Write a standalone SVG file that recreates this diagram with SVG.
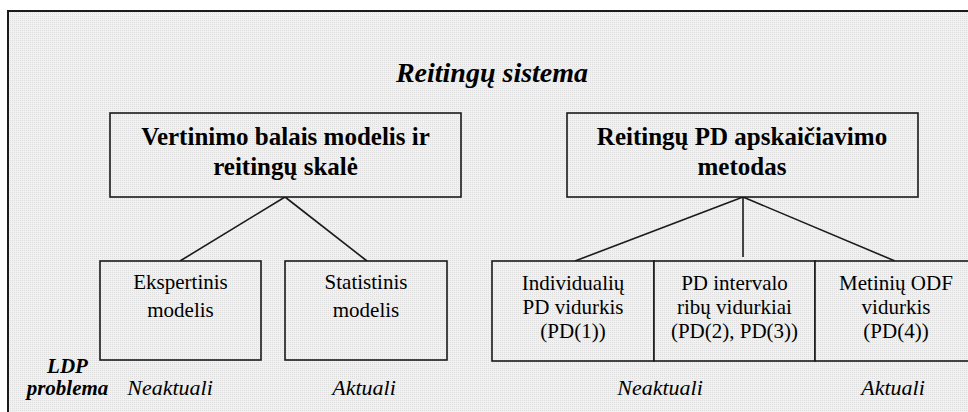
<svg xmlns="http://www.w3.org/2000/svg" width="968" height="412" viewBox="0 0 968 412">
<defs>
<pattern id="dots" width="2" height="2" patternUnits="userSpaceOnUse">
<rect width="2" height="2" fill="#f1f1f1"/>
<rect x="0" y="0" width="1" height="1" fill="#dedede"/>
</pattern>
</defs>
<rect width="968" height="412" fill="#ffffff"/>
<rect id="frame" x="8" y="11" width="980" height="420" fill="url(#dots)" stroke="#1a1a1a" stroke-width="2"/>
<text x="492" y="82" font-family="Liberation Serif" style="font-family:'Liberation Serif',serif;font-size:28px;font-weight:bold;font-style:italic" text-anchor="middle">Reitingų sistema</text>
<g id="connectors" stroke="#1a1a1a" stroke-width="1.6" fill="none">
<line x1="285" y1="197" x2="180" y2="261"/>
<line x1="285" y1="197" x2="367" y2="261"/>
<line x1="743" y1="197" x2="575" y2="261"/>
<line x1="743" y1="197" x2="743" y2="257"/>
<line x1="743" y1="197" x2="895" y2="261"/>
</g>
<g id="vertinimo">
<rect x="110" y="113" width="351" height="84" fill="url(#dots)" stroke="#1a1a1a" stroke-width="1.6"/>
<text x="285.5" y="145" font-family="Liberation Serif" style="font-family:'Liberation Serif',serif;font-size:25px;font-weight:bold" text-anchor="middle">Vertinimo balais modelis ir</text>
<text x="285.5" y="175" font-family="Liberation Serif" style="font-family:'Liberation Serif',serif;font-size:25px;font-weight:bold" text-anchor="middle">reitingų skalė</text>
</g>
<g id="reitingu-pd">
<rect x="567" y="113" width="351" height="84" fill="url(#dots)" stroke="#1a1a1a" stroke-width="1.6"/>
<text x="742" y="145" font-family="Liberation Serif" style="font-family:'Liberation Serif',serif;font-size:25px;font-weight:bold" text-anchor="middle">Reitingų PD apskaičiavimo</text>
<text x="742" y="175" font-family="Liberation Serif" style="font-family:'Liberation Serif',serif;font-size:25px;font-weight:bold" text-anchor="middle">metodas</text>
</g>
<g id="ekspertinis">
<rect x="100" y="261" width="161" height="99" fill="url(#dots)" stroke="#1a1a1a" stroke-width="1.6"/>
<text x="180.5" y="289" font-family="Liberation Serif" style="font-family:'Liberation Serif',serif;font-size:21px" text-anchor="middle">Ekspertinis</text>
<text x="180.5" y="317" font-family="Liberation Serif" style="font-family:'Liberation Serif',serif;font-size:21px" text-anchor="middle">modelis</text>
</g>
<g id="statistinis">
<rect x="285" y="261" width="162" height="99" fill="url(#dots)" stroke="#1a1a1a" stroke-width="1.6"/>
<text x="366" y="289" font-family="Liberation Serif" style="font-family:'Liberation Serif',serif;font-size:21px" text-anchor="middle">Statistinis</text>
<text x="366" y="317" font-family="Liberation Serif" style="font-family:'Liberation Serif',serif;font-size:21px" text-anchor="middle">modelis</text>
</g>
<g id="individualiu">
<rect x="492" y="261" width="162" height="100" fill="url(#dots)" stroke="#1a1a1a" stroke-width="1.6"/>
<text x="573" y="290" font-family="Liberation Serif" style="font-family:'Liberation Serif',serif;font-size:21px" text-anchor="middle">Individualių</text>
<text x="573" y="314" font-family="Liberation Serif" style="font-family:'Liberation Serif',serif;font-size:21px" text-anchor="middle">PD vidurkis</text>
<text x="573" y="338" font-family="Liberation Serif" style="font-family:'Liberation Serif',serif;font-size:21px" text-anchor="middle">(PD(1))</text>
</g>
<g id="intervalo">
<rect x="654" y="261" width="161" height="100" fill="url(#dots)" stroke="#1a1a1a" stroke-width="1.6"/>
<text x="734.5" y="290" font-family="Liberation Serif" style="font-family:'Liberation Serif',serif;font-size:21px" text-anchor="middle">PD intervalo</text>
<text x="734.5" y="314" font-family="Liberation Serif" style="font-family:'Liberation Serif',serif;font-size:21px" text-anchor="middle">ribų vidurkiai</text>
<text x="734.5" y="338" font-family="Liberation Serif" style="font-family:'Liberation Serif',serif;font-size:21px" text-anchor="middle">(PD(2), PD(3))</text>
</g>
<g id="metiniu">
<rect x="815" y="261" width="162" height="100" fill="url(#dots)" stroke="#1a1a1a" stroke-width="1.6"/>
<text x="896" y="290" font-family="Liberation Serif" style="font-family:'Liberation Serif',serif;font-size:21px" text-anchor="middle">Metinių ODF</text>
<text x="896" y="314" font-family="Liberation Serif" style="font-family:'Liberation Serif',serif;font-size:21px" text-anchor="middle">vidurkis</text>
<text x="896" y="338" font-family="Liberation Serif" style="font-family:'Liberation Serif',serif;font-size:21px" text-anchor="middle">(PD(4))</text>
</g>
<g id="ldp">
<text x="67.5" y="373" font-family="Liberation Serif" style="font-family:'Liberation Serif',serif;font-size:21px;font-weight:bold;font-style:italic" text-anchor="middle">LDP</text>
<text x="67.5" y="395" font-family="Liberation Serif" style="font-family:'Liberation Serif',serif;font-size:21px;font-weight:bold;font-style:italic" text-anchor="middle">problema</text>
<text x="170" y="395" font-family="Liberation Serif" style="font-family:'Liberation Serif',serif;font-size:22px;font-style:italic" text-anchor="middle">Neaktuali</text>
<text x="364" y="395" font-family="Liberation Serif" style="font-family:'Liberation Serif',serif;font-size:22px;font-style:italic" text-anchor="middle">Aktuali</text>
<text x="660" y="395" font-family="Liberation Serif" style="font-family:'Liberation Serif',serif;font-size:22px;font-style:italic" text-anchor="middle">Neaktuali</text>
<text x="893" y="395" font-family="Liberation Serif" style="font-family:'Liberation Serif',serif;font-size:22px;font-style:italic" text-anchor="middle">Aktuali</text>
</g>
</svg>
